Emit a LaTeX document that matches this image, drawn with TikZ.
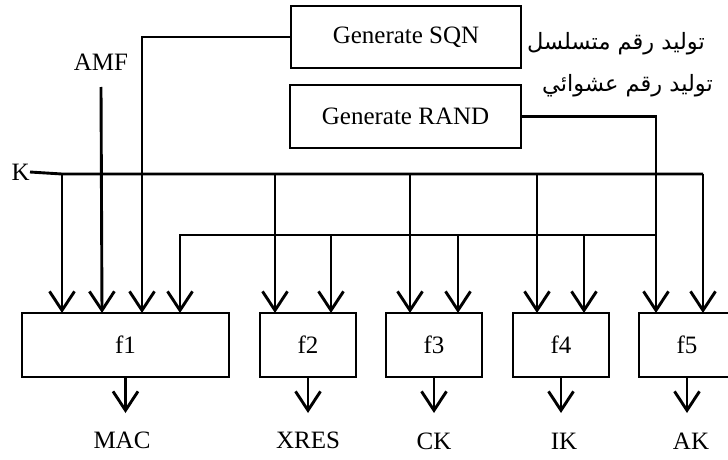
\documentclass[tikz,border=0pt]{standalone}
\usepackage{fontspec}
\setmainfont{Liberation Serif}
\newfontfamily\arabicfont[Script=Arabic]{DejaVu Sans}
\TeXXeTstate=1
\usetikzlibrary{arrows.meta}

\begin{document}
\begin{tikzpicture}[x=1pt,y=-1pt,
  wire/.style={line width=2.9pt},
  arr/.style={wire,-{Straight Barb[length=19pt,width=25pt]}},
  box/.style={draw,line width=2.6pt,inner sep=0pt,font=\fontsize{25}{29}\selectfont},
  fbox/.style={box,minimum width=96pt,minimum height=64pt},
  lbl/.style={inner sep=1pt,font=\fontsize{25}{29}\selectfont},
  ar/.style={inner sep=0pt,font=\arabicfont\fontsize{22.5}{28}\selectfont}]
\clip (0,0) rectangle (728,460);
\fill[white] (0,0) rectangle (728,460);

% generator boxes and their captions
\node[box,minimum width=230pt,minimum height=62pt] (sqn) at (406,37) {Generate SQN};
\node[box,minimum width=231pt,minimum height=63pt] (rand) at (405.5,116.5) {Generate RAND};
\node[ar,anchor=east] (arsqn) at (705,44) {\beginR توليد رقم متسلسل\endR};
\node[ar,anchor=east] (arrand) at (713,86) {\beginR توليد رقم عشوائي\endR};

% inputs
\node[lbl] (amf) at (101,62) {AMF};
\node[lbl,anchor=east,inner sep=0pt] (k) at (30,172) {K};

% function blocks
\node[fbox,minimum width=207pt] (f1) at (125.5,345) {f1};
\node[fbox] (f2) at (308,345) {f2};
\node[fbox] (f3) at (434,345) {f3};
\node[fbox] (f4) at (561,345) {f4};
\node[fbox] (f5) at (687,345) {f5};

% outputs
\node[lbl] (mac) at (122,440) {MAC};
\node[lbl] (xres) at (308,440) {XRES};
\node[lbl] (ck) at (434,441) {CK};
\node[lbl] (ik) at (564,441) {IK};
\node[lbl] (ak) at (691,441) {AK};

% input points on the block tops
\coordinate (f1a) at (62,313);
\coordinate (f1b) at (102,313);
\coordinate (f1c) at (142,313);
\coordinate (f1d) at (180,313);
\coordinate (f2a) at (275,313);
\coordinate (f2b) at (331,313);
\coordinate (f3a) at (410,313);
\coordinate (f3b) at (458,313);
\coordinate (f4a) at (537,313);
\coordinate (f4b) at (584,313);
\coordinate (f5a) at (656,313);
\coordinate (f5b) at (703,313);

% K bus
\coordinate (kbus) at (62,174);
\coordinate (kend) at (703,174);
\draw[wire] (k.east) -- (kbus) -- (kend);
\draw[arr] (kbus) -- (f1a);
\draw[arr] (kend) -- (f5b);
\foreach \p in {f2a,f3a,f4a}
  \draw[arr] (\p |- kbus) -- (\p);

% AMF and SQN
\draw[arr] (amf.south |- 0,87) -- (f1b);
\draw[arr] (sqn.west) -| (f1c);

% RAND bus
\coordinate (rbus) at (180,235);
\draw[arr] (rand.east) -| (f5a);
\draw[arr] (f5a |- rbus) -- (rbus) -- (f1d);
\foreach \p in {f2b,f3b,f4b}
  \draw[arr] (\p |- rbus) -- (\p);

% outputs
\draw[arr] (f1.south) -- (f1.south |- 0,413);
\draw[arr] (f2.south) -- (f2.south |- 0,413);
\draw[arr] (f3.south) -- (f3.south |- 0,413);
\draw[arr] (f4.south) -- (f4.south |- 0,413);
\draw[arr] (f5.south) -- (f5.south |- 0,413);
\end{tikzpicture}
\end{document}
